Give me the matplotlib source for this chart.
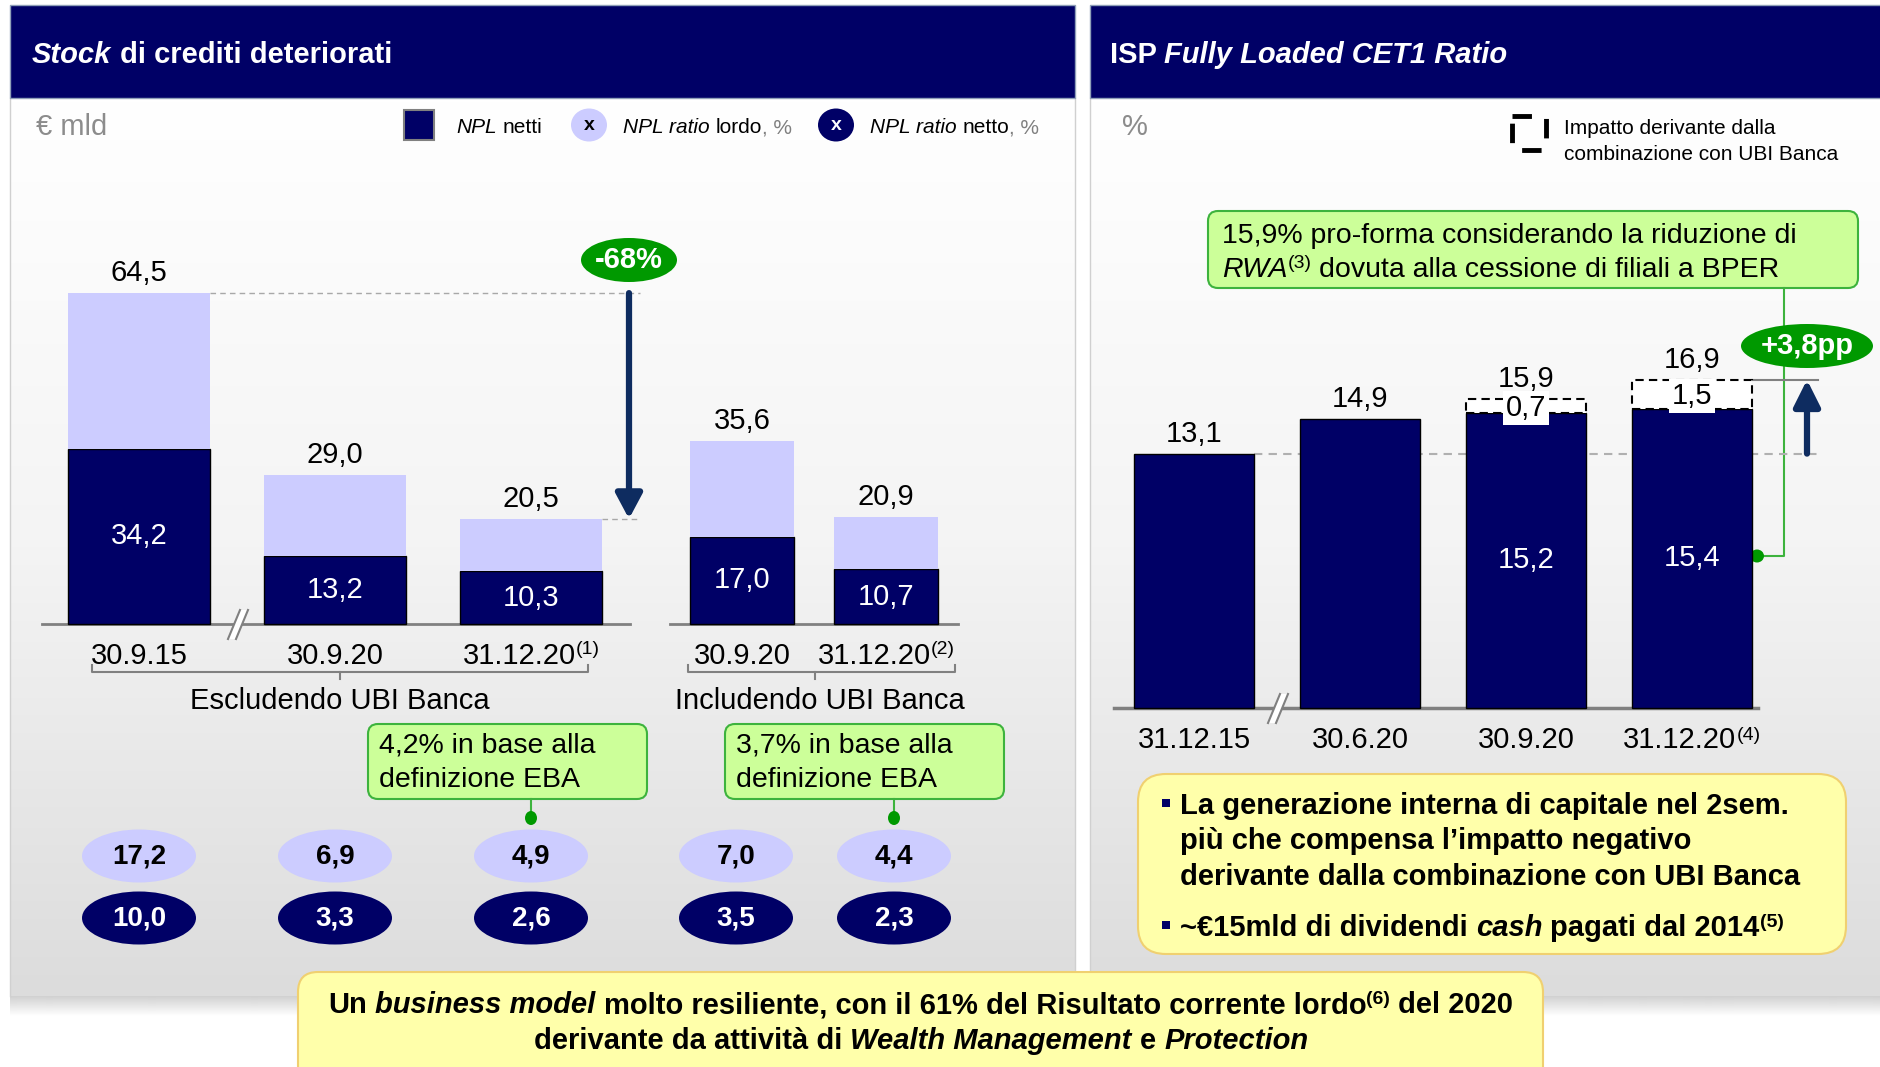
import numpy as np
import matplotlib
matplotlib.use('Agg')
import matplotlib.pyplot as plt
from matplotlib.patches import FancyBboxPatch, Ellipse, Rectangle, Polygon, FancyArrowPatch, ArrowStyle
from matplotlib.colors import LinearSegmentedColormap

plt.rcParams['font.family'] = ['Liberation Sans', 'DejaVu Sans']

# ---------------- data ----------------
npl_dates = ['30.9.15', '30.9.20', '31.12.20', '30.9.20', '31.12.20']
npl_notes = ['', '', '(1)', '', '(2)']
npl_gross_stock = [64.5, 29.0, 20.5, 35.6, 20.9]
npl_net_stock = [34.2, 13.2, 10.3, 17.0, 10.7]
npl_ratio_gross = [17.2, 6.9, 4.9, 7.0, 4.4]
npl_ratio_net = [10.0, 3.3, 2.6, 3.5, 2.3]
npl_groups = ['Escludendo UBI Banca', 'Includendo UBI Banca']
eba_ratio = [4.2, 3.7]

cet1_dates = ['31.12.15', '30.6.20', '30.9.20', '31.12.20']
cet1_notes = ['', '', '', '(4)']
cet1_organic = [13.1, 14.9, 15.2, 15.4]
cet1_ubi_impact = [0.0, 0.0, 0.7, 1.5]
cet1_proforma = 15.9

# ---------------- style ----------------
NAVY = '#000066'
LAV = '#CCCCFF'
GREEN = '#009900'
CALL_FC = '#CCFF99'
CALL_EC = '#3DB33D'
YEL_FC = '#FFFFAA'
YEL_EC = '#F0D070'
GRAY = '#808080'
ARROW = '#0E2C60'

W, H = 1881, 1067
fig = plt.figure(figsize=(W / 100, H / 100), dpi=100)
cv = fig.add_axes([0, 0, 1, 1])
cv.set_axis_off()
cv.set_xlim(0, W)
cv.set_ylim(H, 0)
cv.set_autoscale_on(False)
cv.set_zorder(0)


def data_axes(x0px, xunit, y0px, yunit, z):
    ax = fig.add_axes([0, 0, 1, 1])
    ax.set_axis_off()
    ax.patch.set_visible(False)
    ax.set_xlim(-x0px / xunit, (W - x0px) / xunit)
    ax.set_ylim((y0px - H) / yunit, y0px / yunit)
    ax.set_autoscale_on(False)
    ax.set_zorder(z)
    return ax


LX0, LXU, LY0, LYU = 139, 196, 624, 5.13
RX0, RXU, RY0, RYU = 1194, 166, 708, 19.42
axL = data_axes(LX0, LXU, LY0, LYU, 2)
axR = data_axes(RX0, RXU, RY0, RYU, 3)

lx = lambda px: (px - LX0) / LXU
ly = lambda py: (LY0 - py) / LYU
rx = lambda px: (px - RX0) / RXU
ry = lambda py: (RY0 - py) / RYU

fmt = lambda v: f"{v:.1f}".replace('.', ',')

# ---------------- rich text helper ----------------
R = fig.canvas.get_renderer()
_cache = {}


def _w(s, size, weight, style):
    key = (s, size, weight, style)
    if key not in _cache:
        t = fig.text(0, 0, s, fontsize=size, fontweight=weight, fontstyle=style)
        _cache[key] = t.get_window_extent(renderer=R).width
        t.remove()
    return _cache[key]


def adv(s, size, weight, style):
    if not s:
        return 0
    return _w('|' + s + '|', size, weight, style) - _w('||', size, weight, style)


def rich(ax, x, y, segs, size=21, weight='normal', color='black', ha='left', zorder=6):
    items = []
    cur = 0
    for seg in segs:
        txt, o = (seg, {}) if isinstance(seg, str) else seg
        sz = o.get('size', size)
        wt = o.get('weight', weight)
        st = o.get('style', 'normal')
        col = o.get('color', color)
        lead = len(txt) - len(txt.lstrip(' '))
        items.append((txt.strip(' '), cur + adv(' ' * lead, sz, wt, st), o.get('dy', 0), sz, wt, st, col))
        cur += adv(txt, sz, wt, st)
    start = {'left': 0, 'center': -cur / 2, 'right': -cur}[ha]
    for txt, off, dy, sz, wt, st, col in items:
        if txt:
            ax.annotate(txt, xy=(x, y), xycoords='data', xytext=(start + off, dy),
                        textcoords='offset pixels', fontsize=sz, fontweight=wt, fontstyle=st,
                        color=col, ha='left', va='baseline', zorder=zorder, annotation_clip=False)


IT = {'style': 'italic'}
BI = {'style': 'italic', 'weight': 'bold'}
SUP = {'size': 14, 'dy': 9}

# ---------------- backgrounds ----------------
grad = np.linspace(0, 1, 256).reshape(-1, 1)
bgmap = LinearSegmentedColormap.from_list('bg', ['#FFFFFF', '#F4F4F4', '#DCDCDC'])
for x0, x1 in [(10, 1075), (1090, 1881)]:
    cv.imshow(grad, extent=(x0, x1, 996, 98), aspect='auto', cmap=bgmap, origin='upper', zorder=0)
shadow = np.zeros((40, 1, 4))
shadow[:, 0, :3] = 0.6
shadow[:, 0, 3] = np.linspace(0.45, 0.0, 40)
cv.imshow(shadow, extent=(10, 1881, 1016, 996), aspect='auto', origin='upper', zorder=0.5)
cv.plot([10, 10], [98, 996], color='#D0D0D0', lw=1, zorder=1)
cv.plot([1075, 1075], [98, 996], color='#D0D0D0', lw=1, zorder=1)
cv.plot([1090, 1090], [98, 996], color='#D0D0D0', lw=1, zorder=1)

# headers
cv.add_patch(Rectangle((10, 5), 1065, 93, fc=NAVY, ec='#8FA0B8', lw=1, zorder=2))
cv.add_patch(Rectangle((1090, 5), 795, 93, fc=NAVY, ec='#8FA0B8', lw=1, zorder=2))
rich(cv, 32, 63, [('Stock', BI), ' di crediti deteriorati'], size=21, weight='bold', color='white')
rich(cv, 1110, 63, ['ISP ', ('Fully Loaded CET1 Ratio', BI)], size=21, weight='bold', color='white')

# ---------------- left panel legend ----------------
cv.text(36, 127, '€ mld', fontsize=21, color='#8C8C8C', va='center', ha='left', zorder=5)
cv.add_patch(Rectangle((404, 110), 30, 30, fc=NAVY, ec=GRAY, lw=1.5, zorder=5))
rich(cv, 456, 133, [('NPL', IT), ' netti'], size=15)
cv.add_patch(Ellipse((589, 125), 36, 33, fc=LAV, ec='none', zorder=5))
cv.text(589, 125, 'x', fontsize=14, fontweight='bold', ha='center', va='center', zorder=6)
rich(cv, 623, 133, [('NPL ratio', IT), ' lordo', (', %', {'color': GRAY})], size=15)
cv.add_patch(Ellipse((836, 125), 36, 33, fc=NAVY, ec='none', zorder=5))
cv.text(836, 125, 'x', fontsize=14, fontweight='bold', color='white', ha='center', va='center', zorder=6)
rich(cv, 870, 133, [('NPL ratio', IT), ' netto', (', %', {'color': GRAY})], size=15)

# ---------------- left panel bars ----------------
xL = [0, 1, 2, lx(742), lx(886)]
wL = [0.724, 0.724, 0.724, 104 / LXU, 104 / LXU]
xRatio = [0, 1, 2, lx(736), lx(894)]
upper = [g - n for g, n in zip(npl_gross_stock, npl_net_stock)]
axL.bar(xL, npl_net_stock, width=wL, color=NAVY, edgecolor='black', lw=1, zorder=3)
axL.bar(xL, upper, bottom=npl_net_stock, width=wL, color=LAV, edgecolor='none', zorder=3)
for x, g, n in zip(xL, npl_gross_stock, npl_net_stock):
    axL.annotate(fmt(g), xy=(x, g), xytext=(0, 6), textcoords='offset pixels',
                 ha='center', va='bottom', fontsize=21, zorder=6)
    axL.text(x, n / 2, fmt(n), ha='center', va='center', fontsize=21, color='white', zorder=6)

# axis lines and break
cv.plot([42, 630], [624, 624], color=GRAY, lw=2, zorder=1)
cv.plot([670, 958], [624, 624], color=GRAY, lw=2, zorder=1)


def brk(cx, cy):
    cv.add_patch(Polygon([[cx - 8, cy + 15], [cx + 4, cy - 14], [cx + 12, cy - 14], [cx, cy + 15]],
                         fc='white', ec='none', zorder=4))
    cv.plot([cx - 8, cx + 4], [cy + 15, cy - 14], color=GRAY, lw=1.5, zorder=5)
    cv.plot([cx, cx + 12], [cy + 15, cy - 14], color=GRAY, lw=1.5, zorder=5)


brk(236, 624)

# tick labels
for x, d, nt in zip(xL, npl_dates, npl_notes):
    segs = [d] + ([(nt, SUP)] if nt else [])
    rich(axL, x, ly(663.5), segs, size=21, ha='center')

# braces
for (a, b, c) in [(92, 588, 340), (688, 955, 815)]:
    cv.plot([a, a, b, b], [665, 672, 672, 665], color=GRAY, lw=1.5, zorder=2)
    cv.plot([c, c], [672, 679], color=GRAY, lw=1.5, zorder=2)
cv.text(340, 701, npl_groups[0], fontsize=21, ha='center', va='center', zorder=5)
cv.text(820, 701, npl_groups[1], fontsize=21, ha='center', va='center', zorder=5)

# EBA callouts
for bx, e, xi in [(368, eba_ratio[0], xRatio[2]), (725, eba_ratio[1], xRatio[4])]:
    cv.add_patch(FancyBboxPatch((bx, 724), 279, 75, boxstyle='round,pad=0,rounding_size=10',
                                fc=CALL_FC, ec=CALL_EC, lw=1.5, zorder=3))
    cv.text(bx + 11, 745, f"{fmt(e)}% in base alla", fontsize=20.5, va='center', ha='left', zorder=5)
    cv.text(bx + 11, 780, 'definizione EBA', fontsize=20.5, va='center', ha='left', zorder=5)
    px = LX0 + xi * LXU
    cv.plot([px, px], [799, 818], color=CALL_EC, lw=1.5, zorder=3)
    cv.add_patch(Ellipse((px, 818), 12, 14, fc=GREEN, ec='none', zorder=4))

# ratio ellipses
for xi, g, n in zip(xRatio, npl_ratio_gross, npl_ratio_net):
    axL.add_patch(Ellipse((xi, ly(856)), 114 / LXU, 53 / LYU, fc=LAV, ec='none', zorder=3))
    axL.text(xi, ly(856), fmt(g), ha='center', va='center', fontsize=20, fontweight='bold', zorder=5)
    axL.add_patch(Ellipse((xi, ly(918)), 114 / LXU, 53 / LYU, fc=NAVY, ec='none', zorder=3))
    axL.text(xi, ly(918), fmt(n), ha='center', va='center', fontsize=20, fontweight='bold',
             color='white', zorder=5)

# -68% arrow
xa = lx(629)
xe = lx(640)
axL.plot([xL[0] + wL[0] / 2, xe], [npl_gross_stock[0]] * 2, color='#A8A8A8', lw=1, ls=(0, (4, 3)), zorder=2)
axL.plot([xL[2] + wL[2] / 2, xe], [npl_gross_stock[2]] * 2, color='#A8A8A8', lw=1, ls=(0, (4, 3)), zorder=2)
axL.add_patch(FancyArrowPatch((xa, npl_gross_stock[0]), (xa, npl_gross_stock[2]),
                              arrowstyle=ArrowStyle('-|>', head_length=15, head_width=8),
                              mutation_scale=1, lw=4.5, color=ARROW, shrinkA=0, shrinkB=0, zorder=4))
chg = (npl_gross_stock[2] - npl_gross_stock[0]) / npl_gross_stock[0] * 100
axL.add_patch(Ellipse((xa, ly(260)), 96 / LXU, 44 / LYU, fc=GREEN, ec='none', zorder=5))
axL.text(xa, ly(260), f"{chg:.0f}%", ha='center', va='center', fontsize=21, fontweight='bold',
         color='white', zorder=6)

# ---------------- right panel ----------------
cv.text(1122, 127, '%', fontsize=21, color='#8C8C8C', va='center', ha='left', zorder=5)
cv.add_patch(Rectangle((1512, 116), 34, 34, fill=False, ec='black', lw=3.5, ls=(0, (4, 3.5)), zorder=5))
cv.text(1564, 128, 'Impatto derivante dalla', fontsize=15, va='center', ha='left', zorder=5)
cv.text(1564, 154, 'combinazione con UBI Banca', fontsize=15, va='center', ha='left', zorder=5)

xR = [0, 1, 2, 3]
wR = 120 / RXU
total = [o + i for o, i in zip(cet1_organic, cet1_ubi_impact)]
xend = rx(1818)
axR.plot([xR[0] + wR / 2, xend], [cet1_organic[0]] * 2, color='#B0B0B0', lw=1.5, ls=(0, (4, 3)), zorder=1)
axR.plot([xR[3] + wR / 2, xend], [total[3]] * 2, color=GRAY, lw=1.5, zorder=1)
axR.bar(xR, cet1_organic, width=wR, color=NAVY, edgecolor='black', lw=1, zorder=3)
for x, o, imp, t in zip(xR, cet1_organic, cet1_ubi_impact, total):
    if imp > 0:
        axR.bar([x], [imp], bottom=[o], width=wR, color='white', edgecolor='black', lw=1.5,
                ls=(0, (4, 2.5)), zorder=3)
        axR.annotate(fmt(imp), xy=(x, o + imp / 2), xytext=(0, -2), textcoords='offset pixels',
                     ha='center', va='center', fontsize=21, zorder=6,
                     bbox=dict(fc='white', ec='none', pad=2))
        axR.text(x, o / 2, fmt(o), ha='center', va='center', fontsize=21, color='white', zorder=6)
    axR.annotate(fmt(t), xy=(x, t), xytext=(0, 6), textcoords='offset pixels',
                 ha='center', va='bottom', fontsize=21, zorder=6)
for x, d, nt in zip(xR, cet1_dates, cet1_notes):
    segs = [d] + ([(nt, SUP)] if nt else [])
    rich(axR, x, ry(748.5), segs, size=21, ha='center')

cv.plot([1114, 1758], [708, 708], color=GRAY, lw=2.5, zorder=1)
brk(1276, 708)

# +3,8pp arrow
xu = rx(1807)
axR.add_patch(FancyArrowPatch((xu, cet1_organic[0]), (xu, total[3]),
                              arrowstyle=ArrowStyle('-|>', head_length=16, head_width=8),
                              mutation_scale=1, lw=4.5, color=ARROW, shrinkA=0, shrinkB=0, zorder=4))
axR.add_patch(Ellipse((xu, ry(346)), 132 / RXU, 44 / RYU, fc=GREEN, ec='none', zorder=5))
axR.text(xu, ry(346), f"+{fmt(total[3] - cet1_organic[0])}pp", ha='center', va='center',
         fontsize=21, fontweight='bold', color='white', zorder=6)

# pro-forma callout
cv.add_patch(FancyBboxPatch((1208, 211), 650, 77, boxstyle='round,pad=0,rounding_size=10',
                            fc=CALL_FC, ec=CALL_EC, lw=1.5, zorder=3))
rich(cv, 1222, 243, [f"{fmt(cet1_proforma)}% pro-forma considerando la riduzione di"], size=20.5)
rich(cv, 1222, 277, [('RWA', IT), ('(3)', SUP), ' dovuta alla cessione di filiali a BPER'], size=20.5)
cv.plot([1784, 1784, 1757], [288, 556, 556], color=CALL_EC, lw=1.5, zorder=3)
cv.add_patch(Ellipse((1757, 556), 14, 13, fc=GREEN, ec='none', zorder=6))

# yellow box right
cv.add_patch(FancyBboxPatch((1138, 774), 708, 180, boxstyle='round,pad=0,rounding_size=28',
                            fc=YEL_FC, ec=YEL_EC, lw=1.5, zorder=3))
BSUP = {'size': 14, 'dy': 9, 'weight': 'bold'}
for yb in [804, 926]:
    cv.add_patch(Rectangle((1162, yb - 5), 8, 8, fc=NAVY, ec='none', zorder=5))
rich(cv, 1180, 814, ['La generazione interna di capitale nel 2sem.'], weight='bold')
rich(cv, 1180, 849, ['più che compensa l’impatto negativo'], weight='bold')
rich(cv, 1180, 885, ['derivante dalla combinazione con UBI Banca'], weight='bold')
rich(cv, 1180, 936, ['~€15mld di dividendi ', ('cash', BI), ' pagati dal 2014', ('(5)', BSUP)], weight='bold')

# bottom box
cv.add_patch(FancyBboxPatch((298, 972), 1245, 130, boxstyle='round,pad=0,rounding_size=20',
                            fc=YEL_FC, ec=YEL_EC, lw=1.5, zorder=3))
rich(cv, 921, 1013, ['Un ', ('business model', BI),
                     ' molto resiliente, con il 61% del Risultato corrente lordo', ('(6)', BSUP),
                     ' del 2020'], weight='bold', ha='center')
rich(cv, 921, 1049, ['derivante da attività di ', ('Wealth Management', BI), ' e ',
                     ('Protection', BI)], weight='bold', ha='center')

fig.savefig('out.png', dpi=100)
